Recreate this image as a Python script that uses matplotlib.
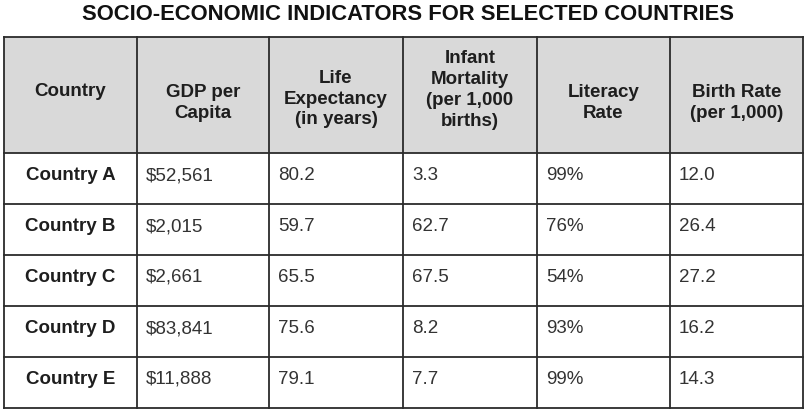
import matplotlib
matplotlib.use("Agg")
import matplotlib.pyplot as plt
from matplotlib.patches import Rectangle

plt.rcParams["font.family"] = ["Liberation Sans", "DejaVu Sans"]

# ── data ──────────────────────────────────────────────────────────────────────
TITLE = "SOCIO-ECONOMIC INDICATORS FOR SELECTED COUNTRIES"
headers = ["Country", "GDP per\nCapita", "Life\nExpectancy\n(in years)",
           "Infant\nMortality\n(per 1,000\nbirths)", "Literacy\nRate",
           "Birth Rate\n(per 1,000)"]
countries = ["Country A", "Country B", "Country C", "Country D", "Country E"]
gdp = ["$52,561", "$2,015", "$2,661", "$83,841", "$11,888"]
life_exp = ["80.2", "59.7", "65.5", "75.6", "79.1"]
infant_mort = ["3.3", "62.7", "67.5", "8.2", "7.7"]
literacy = ["99%", "76%", "54%", "93%", "99%"]
birth_rate = ["12.0", "26.4", "27.2", "16.2", "14.3"]

# ── layout (pixels) ───────────────────────────────────────────────────────────
W, H = 806, 412
COL_EDGES = [4, 137, 269, 403, 537, 670, 803]
TOP, HEAD_H, ROW_H = 37, 116, 51
HEAD_Y = {1: 91, 2: 103, 3: 99, 4: 90}   # header text centre by line count
FS = 13.5
LINE_C = "#2b2b2b"
HEAD_BG = "#d9d9d9"
TXT_C = "#1e1e1e"

fig = plt.figure(figsize=(W / 100, H / 100), dpi=100)
ax = fig.add_axes([0, 0, 1, 1])
ax.set_xlim(0, W); ax.set_ylim(H, 0); ax.axis("off")

ax.text(W / 2 + 5, 14, TITLE, ha="center", va="center", fontsize=15.8,
        fontweight="bold", color="#111111")

# header band
ax.add_patch(Rectangle((COL_EDGES[0], TOP), COL_EDGES[-1] - COL_EDGES[0], HEAD_H,
                       facecolor=HEAD_BG, edgecolor="none", zorder=0))

for i, h in enumerate(headers):
    cx = (COL_EDGES[i] + COL_EDGES[i + 1]) / 2
    ax.text(cx, HEAD_Y[h.count("\n") + 1], h, ha="center", va="center",
            fontsize=FS, fontweight="bold", color=TXT_C, linespacing=1.3)

cols = [gdp, life_exp, infant_mort, literacy, birth_rate]
for r, name in enumerate(countries):
    yb = TOP + HEAD_H + ROW_H * r + 27   # text baseline
    ax.text((COL_EDGES[0] + COL_EDGES[1]) / 2, yb, name, ha="center", va="baseline",
            fontsize=FS, fontweight="bold", color=TXT_C)
    for c, vals in enumerate(cols):
        ax.text(COL_EDGES[c + 1] + 9, yb, vals[r], ha="left", va="baseline",
                fontsize=FS, color="#333333")

# grid lines
bottom = TOP + HEAD_H + ROW_H * len(countries)
row_edges = [TOP, TOP + HEAD_H] + [TOP + HEAD_H + ROW_H * (k + 1) for k in range(len(countries))]
for ye in row_edges:
    ax.plot([COL_EDGES[0], COL_EDGES[-1]], [ye, ye], color=LINE_C, lw=1.3,
            solid_capstyle="projecting")
for xe in COL_EDGES:
    ax.plot([xe, xe], [TOP, bottom], color=LINE_C, lw=1.3, solid_capstyle="projecting")

fig.savefig("out.png", dpi=100)
